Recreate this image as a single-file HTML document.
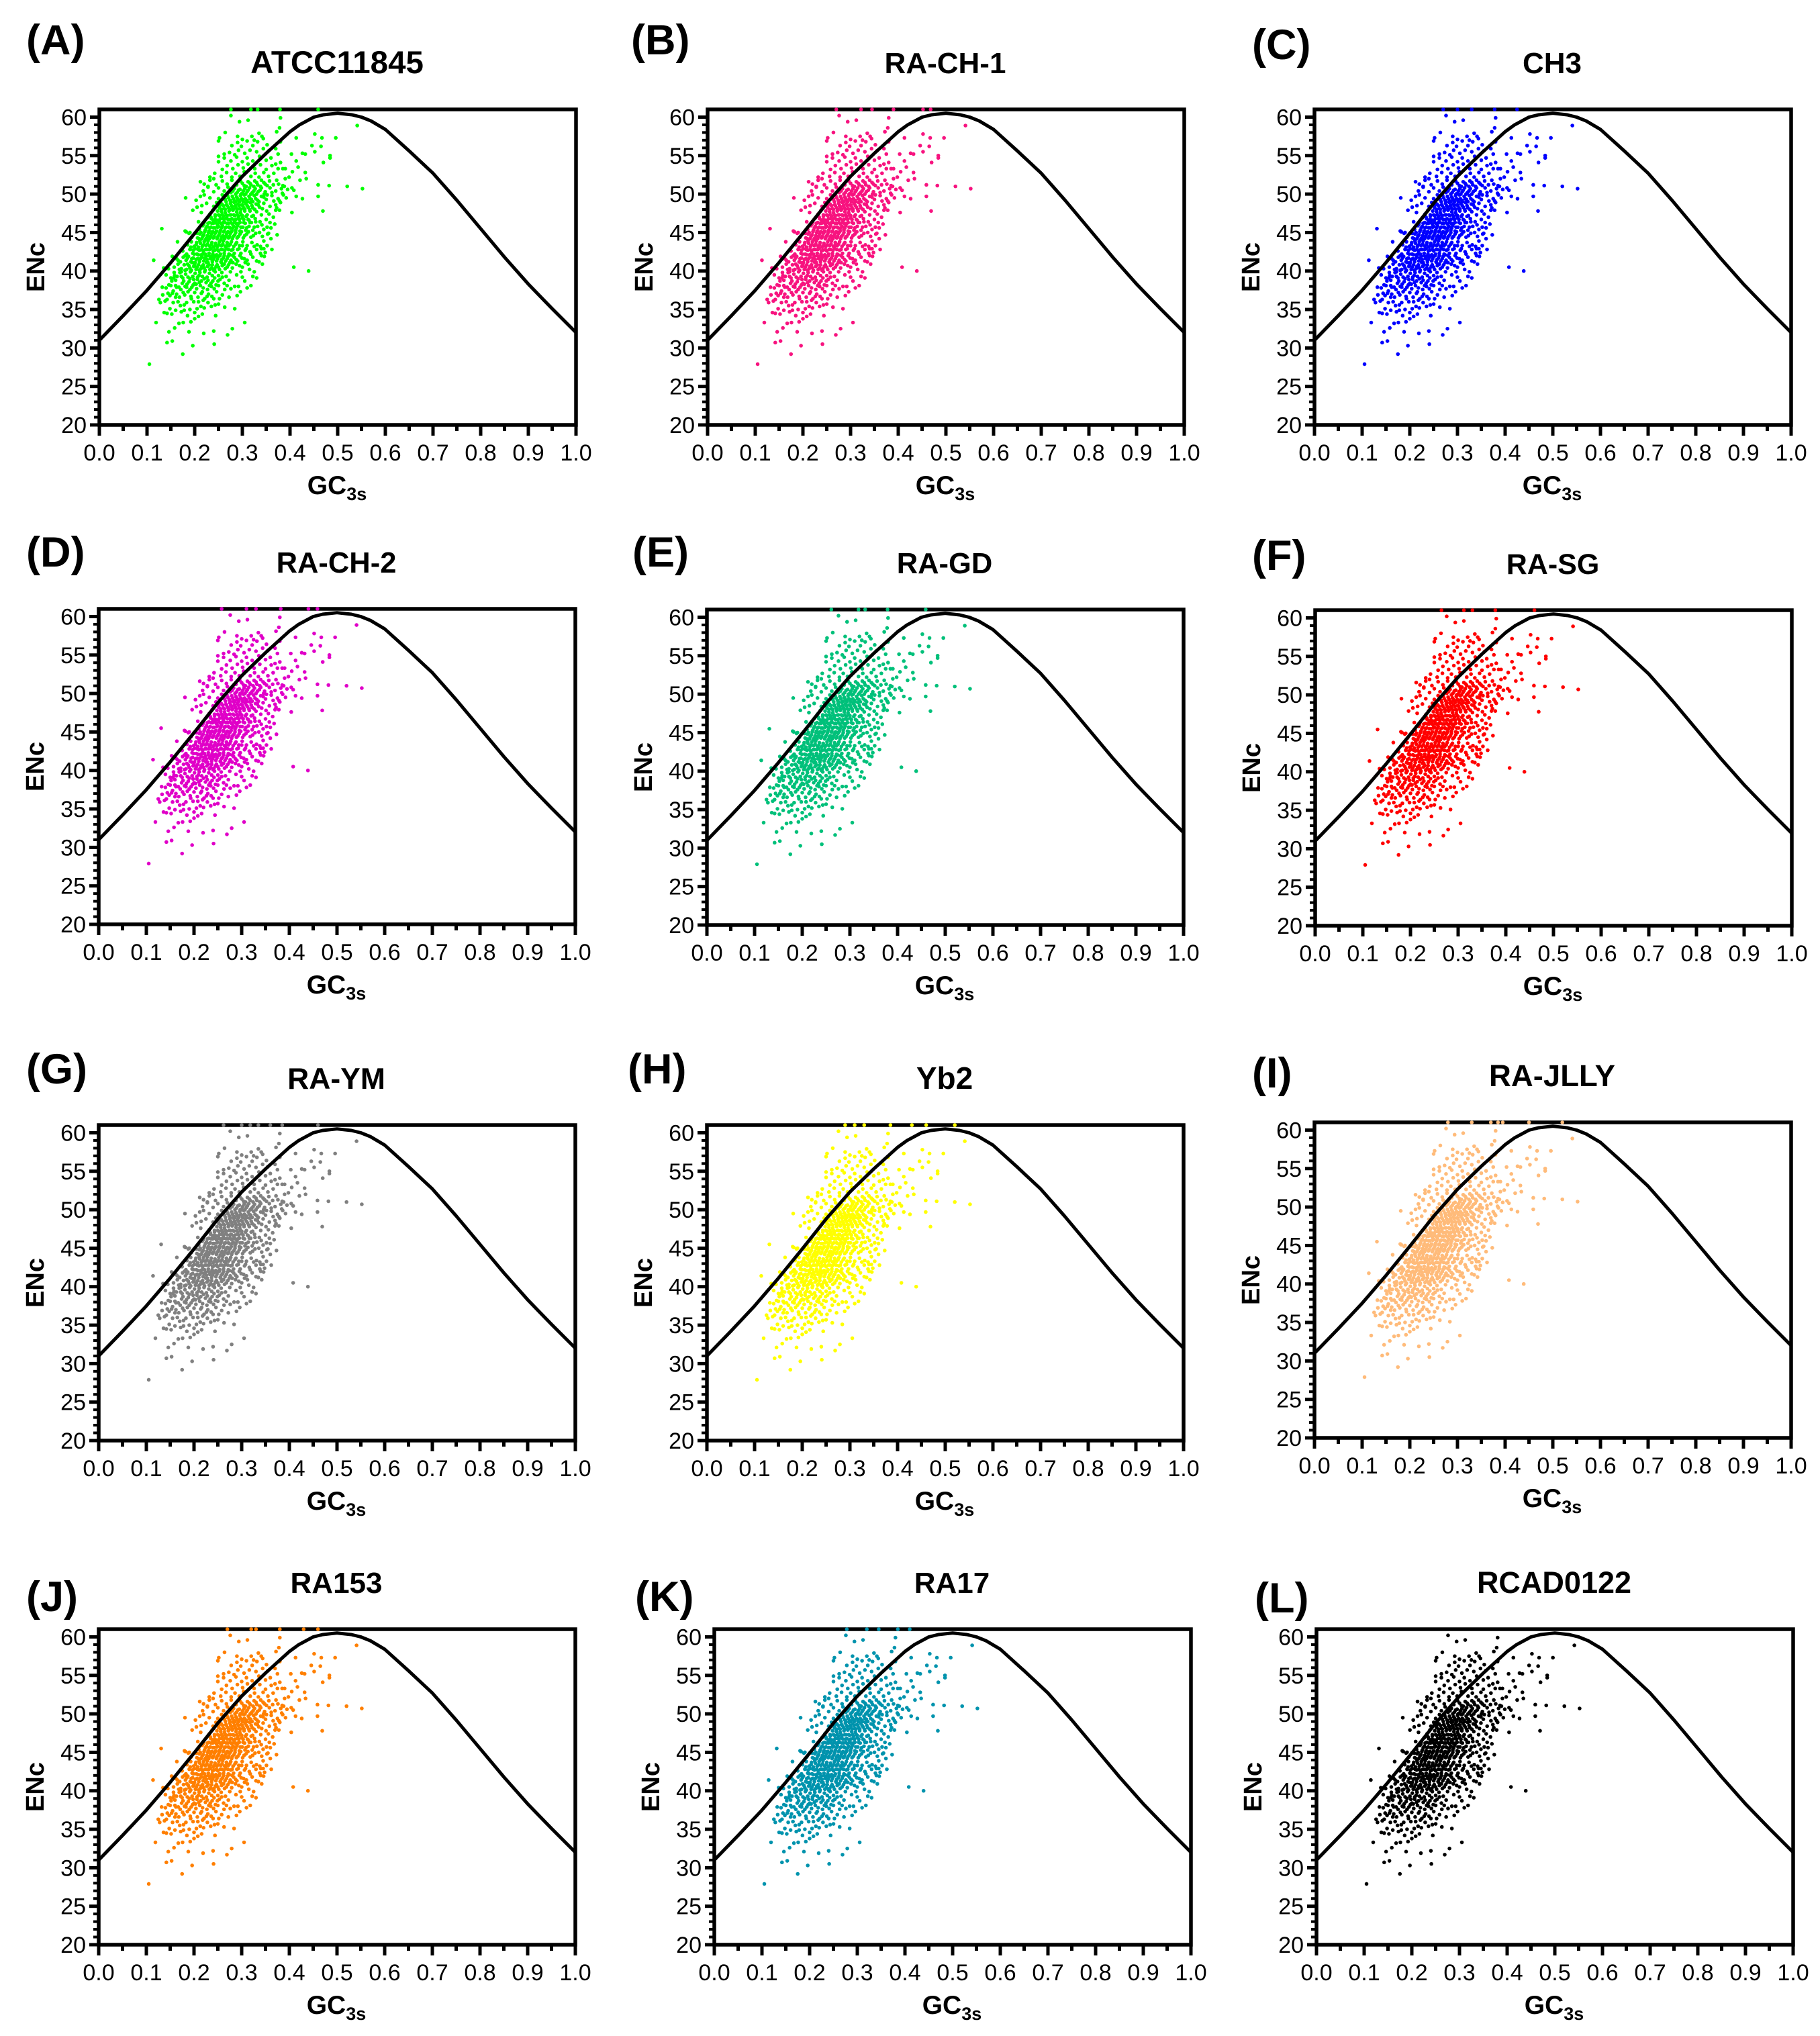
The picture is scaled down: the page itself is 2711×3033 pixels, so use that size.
<!DOCTYPE html>
<html lang="en">
<head>
<meta charset="utf-8">
<title>ENc versus GC3s plots</title>
<style>
html,body{margin:0;padding:0;background:#fff;}
svg{display:block;}
text{font-family:"Liberation Sans",Arial,sans-serif;fill:#000;}
</style>
</head>
<body>
<svg id="figure" xmlns="http://www.w3.org/2000/svg" width="2711" height="3033" viewBox="0 0 2711 3033"></svg>
<script>
// ---------- data ----------
const panelLetters = ["(A)","(B)","(C)","(D)","(E)","(F)","(G)","(H)","(I)","(J)","(K)","(L)"];
const strainNames = ["ATCC11845","RA-CH-1","CH3","RA-CH-2","RA-GD","RA-SG","RA-YM","Yb2","RA-JLLY","RA153","RA17","RCAD0122"];
const strainColors = ["#00ff00","#f7137f","#0000ff","#e000c8","#00c07a","#ff0000","#808080","#ffff00","#ffbb7a","#ff7f00","#0093ad","#000000"];
const xTickLabels = ["0.0","0.1","0.2","0.3","0.4","0.5","0.6","0.7","0.8","0.9","1.0"];
const yTickLabels = ["20","25","30","35","40","45","50","55","60"];
// Expected ENc curve, read at its vertices
const curveGc3s = [0,.05,.1,.15,.2,.25,.3,.35,.4,.42,.45,.47,.5,.53,.55,.57,.6,.65,.7,.75,.8,.85,.9,.95,1];
const curveEnc = [31,34.2,37.5,41.1,44.9,48.8,52.3,55.3,58.1,59,60,60.3,60.5,60.3,60,59.5,58.4,55.6,52.7,49.2,45.5,41.8,38.3,35.1,32];
// Genes at the clipped upper limit for each strain (ENc = 61)
const topEdgeEnc = 61;
const topEdgeGc3s = [
 [.276,.318,.332,.379,.459],
 [.27,.322,.345,.39,.452,.468],
 [.27,.3,.33,.378,.425],
 [.258,.31,.33,.382,.44,.459],
 [.261,.318,.332,.379,.459],
 [.265,.312,.33,.378,.46],
 [.262,.3,.318,.335,.36,.385,.46],
 [.29,.31,.33,.385,.43,.46,.52],
 [.28,.33,.37,.385,.395,.45,.52],
 [.27,.32,.33,.38,.43,.46],
 [.278,.32,.345,.385,.41],
 []
];
// Gene points [GC3s, ENc]
const sparseLowGenes = [[.105,27.9],[.175,29.2],[.196,30.3],[.241,30.5],[.142,30.7],[.153,30.9],[.219,31.9],[.269,31.7],[.279,32.5],[.24,32.2],[.305,33.3],[.119,33.3],[.146,32.1],[.188,32.1],[.167,33.2],[.158,32.6],[.192,33.4],[.2,33.8],[.185,34.2],[.176,33.3],[.208,34.1],[.244,34.2],[.136,34.6],[.142,34.5],[.152,34.4],[.172,34.7],[.19,35],[.205,35.1],[.22,35.2],[.235,35.4],[.25,35.7],[.263,35.3],[.284,35.1],[.128,35.9],[.142,36.3],[.155,35.9],[.165,36],[.178,35.6],[.198,36],[.213,35.4],[.228,35.9],[.243,35.6],[.272,36.6],[.125,36.3],[.133,36.9],[.148,36.8]];
const lowerBandGenes = [[.132,37.9],[.14,37.8],[.155,37.4],[.162,37],[.171,37.6],[.179,36.9],[.186,37.3],[.192,36.7],[.2,37.2],[.207,36.6],[.214,37.1],[.221,36.4],[.229,37],[.236,36.7],[.246,37.3],[.258,36.9],[.276,37.7],[.146,38.2],[.152,38.7],[.16,38.1],[.167,37.9],[.174,38.4],[.18,38],[.188,38.6],[.194,37.9],[.2,38.4],[.206,38.9],[.212,38.1],[.218,37.8],[.224,38.5],[.231,38.1],[.238,38.7],[.245,38.2],[.253,38.9],[.262,38.4],[.272,38.8],[.284,38],[.292,38],[.31,37.8],[.318,38.1],[.14,39.5],[.15,39.1],[.157,39.8],[.163,39.3],[.169,39.8],[.175,39.1],[.181,39.6],[.186,39.2],[.191,39.9],[.196,39.3],[.201,39.7],[.206,39.2],[.211,39.8],[.216,39.3],[.221,39.9],[.226,39.2],[.231,39.7],[.237,39.4],[.243,39.9],[.25,39.4],[.257,39.8],[.266,39.3],[.275,39.9],[.288,39.5],[.297,39.9],[.325,39.9],[.157,40.5],[.165,40.9],[.172,40.3],[.178,40.8],[.183,40.2],[.188,40.7],[.193,40.1],[.198,40.6],[.203,40.2],[.208,40.8],[.213,40.3],[.218,40.8],[.222,40.1],[.227,40.6],[.232,40.2],[.237,40.8],[.242,40.3],[.247,40.8],[.252,40.2],[.258,40.7],[.264,40.3],[.271,40.8],[.279,40.4],[.287,40.9],[.3,40.5],[.312,40.9],[.162,41.6],[.17,41.2],[.176,41.8],[.182,41.4],[.187,41.9],[.192,41.2],[.197,41.7],[.201,41.1],[.206,41.6],[.21,41.2],[.215,41.8],[.219,41.3],[.224,41.9],[.228,41.1],[.233,41.6],[.237,41.2],[.241,41.8],[.246,41.3],[.25,41.9],[.255,41.2],[.26,41.7],[.265,41.3],[.27,41.9],[.276,41.4],[.283,41.8],[.29,41.3],[.299,41.7],[.31,41.4],[.322,41.8]];
const denseCoreGenes = [[.175,42.6],[.183,42.2],[.19,42.8],[.196,42.3],[.201,42.9],[.205,42.2],[.21,42.7],[.214,42.1],[.218,42.6],[.222,42.2],[.226,42.8],[.23,42.3],[.234,42.9],[.238,42.2],[.242,42.7],[.246,42.1],[.25,42.6],[.254,42.2],[.258,42.8],[.262,42.3],[.267,42.9],[.272,42.2],[.277,42.7],[.283,42.3],[.29,42.8],[.297,42.3],[.306,42.7],[.318,42.2],[.33,42.8],[.34,42.9],[.185,43.4],[.193,43.8],[.199,43.2],[.204,43.7],[.208,43.1],[.212,43.6],[.216,43.2],[.22,43.8],[.224,43.3],[.228,43.9],[.232,43.2],[.236,43.7],[.24,43.1],[.244,43.6],[.248,43.2],[.252,43.8],[.256,43.3],[.26,43.9],[.264,43.2],[.268,43.7],[.272,43.3],[.277,43.8],[.282,43.2],[.288,43.7],[.294,43.3],[.301,43.8],[.31,43.3],[.32,43.7],[.331,43.4],[.345,43.9],[.194,44.4],[.2,44.9],[.206,44.3],[.211,44.8],[.215,44.2],[.219,44.7],[.223,44.1],[.227,44.6],[.231,44.2],[.235,44.8],[.239,44.3],[.243,44.9],[.247,44.2],[.251,44.7],[.255,44.1],[.259,44.6],[.263,44.2],[.267,44.8],[.271,44.3],[.275,44.9],[.279,44.2],[.284,44.7],[.289,44.3],[.295,44.8],[.302,44.3],[.309,44.8],[.318,44.4],[.328,44.9],[.342,44.5],[.373,44.7],[.182,45.1],[.188,44.9],[.21,45.4],[.217,45.9],[.222,45.3],[.226,45.8],[.23,45.2],[.234,45.7],[.238,45.1],[.242,45.6],[.246,45.2],[.25,45.8],[.254,45.3],[.258,45.9],[.262,45.2],[.266,45.7],[.27,45.1],[.274,45.6],[.278,45.2],[.282,45.8],[.286,45.3],[.29,45.9],[.295,45.2],[.301,45.7],[.307,45.3],[.314,45.8],[.322,45.3],[.332,45.8],[.345,45.4],[.352,45.7],[.22,46.4],[.226,46.9],[.231,46.3],[.235,46.8],[.239,46.2],[.243,46.7],[.247,46.1],[.251,46.6],[.255,46.2],[.259,46.8],[.263,46.3],[.267,46.9],[.271,46.2],[.275,46.7],[.279,46.1],[.283,46.6],[.287,46.2],[.291,46.8],[.295,46.3],[.3,46.9],[.306,46.2],[.312,46.7],[.319,46.3],[.327,46.8],[.337,46.4],[.35,46.7],[.232,47.4],[.238,47.9],[.243,47.3],[.248,47.8],[.252,47.2],[.256,47.7],[.26,47.1],[.264,47.6],[.268,47.2],[.272,47.8],[.276,47.3],[.28,47.9],[.284,47.2],[.288,47.7],[.292,47.1],[.296,47.6],[.3,47.2],[.305,47.8],[.31,47.3],[.316,47.8],[.323,47.2],[.33,47.7],[.34,47.3],[.351,47.8],[.37,47.9],[.378,47.9]];
const ridgeFillGenes = [[.153,37.1],[.168,36.6],[.176,37.2],[.183,37.9],[.19,37.6],[.197,38.2],[.204,37.7],[.21,38.5],[.216,37.3],[.227,37.6],[.235,38],[.241,37.7],[.25,38.1],[.16,38.8],[.172,39.3],[.177,38.7],[.184,38.3],[.19,39],[.198,38.9],[.203,38.3],[.209,39.4],[.214,38.7],[.22,39],[.228,38.8],[.234,38.4],[.242,39.1],[.249,38.7],[.258,39.2],[.268,38.1],[.18,40.1],[.185,40.9],[.19,40.4],[.195,41.1],[.2,40.8],[.205,40.5],[.21,40.1],[.215,40.6],[.22,40.4],[.225,41.1],[.23,40.8],[.235,40.4],[.24,40.1],[.245,40.6],[.25,40.5],[.256,41.1],[.262,40.9],[.268,40.5],[.274,41.1],[.28,41.1],[.294,40.7],[.306,41.1],[.18,42],[.185,41.7],[.194,41.6],[.199,42.2],[.203,41.5],[.208,42.1],[.212,41.6],[.217,42.2],[.221,41.7],[.226,41.5],[.23,42],[.235,41.9],[.239,41.5],[.244,42],[.248,41.6],[.253,42],[.257,41.5],[.262,42],[.268,41.6],[.274,42.1],[.28,42],[.287,41.5],[.295,42],[.304,41.6],[.316,42.5],[.192,43.1],[.197,42.7],[.203,43.4],[.207,42.8],[.211,43.9],[.215,42.8],[.219,43.4],[.223,42.8],[.227,43.5],[.231,42.8],[.235,43.4],[.239,42.6],[.243,43.3],[.247,42.8],[.251,43.4],[.255,42.8],[.259,43.5],[.263,42.7],[.267,43.3],[.271,42.8],[.275,43.5],[.28,42.8],[.286,43.5],[.293,42.9],[.3,43.3],[.308,42.9],[.325,43.2],[.338,43.2],[.205,44.9],[.209,44.2],[.213,45],[.217,44.5],[.221,45.1],[.225,44.3],[.229,45],[.233,44.5],[.237,45.1],[.241,44.5],[.245,45.1],[.249,44.5],[.253,45],[.257,44.4],[.261,45.1],[.265,44.5],[.269,45],[.273,44.5],[.277,45.1],[.281,44.5],[.286,45],[.292,44.5],[.298,45.1],[.305,44.6],[.313,45.1],[.323,44.6],[.336,45],[.219,46.1],[.224,45.6],[.228,46.2],[.232,45.6],[.236,46.2],[.24,45.6],[.244,46.3],[.248,45.7],[.252,46.3],[.256,45.6],[.26,46.3],[.264,45.6],[.268,46.2],[.272,45.7],[.276,46.3],[.28,45.6],[.284,46.3],[.288,45.6],[.292,46.2],[.297,45.7],[.303,46.3],[.309,45.6],[.316,46.3],[.325,45.7],[.341,46],[.234,47],[.239,46.6],[.243,47.1],[.247,46.6],[.25,47.3],[.254,46.8],[.258,47.3],[.262,46.7],[.266,47.3],[.27,46.7],[.274,47.3],[.278,46.8],[.282,47.3],[.286,46.7],[.29,47.3],[.294,46.7],[.298,47.3],[.303,46.7],[.308,47.1],[.314,46.6],[.32,47.1],[.328,46.4],[.252,48.5],[.256,48],[.26,48.5],[.264,48],[.268,48.5],[.273,48],[.277,48.5],[.281,48],[.285,48.5],[.289,48],[.293,48.5],[.297,48],[.301,48.5],[.305,48],[.31,48.5],[.315,48],[.32,48.5],[.326,48],[.333,48.6],[.342,48.1],[.262,49.4],[.266,49],[.271,49.5],[.276,49],[.281,49.4],[.286,49],[.29,49.4],[.294,49],[.298,49.4],[.302,49],[.306,49.4],[.311,49],[.316,49.4],[.322,49],[.328,49.4],[.335,49],[.345,49.6],[.28,50.4],[.286,50],[.292,50.5],[.297,50],[.302,50.4],[.307,50],[.312,50.5],[.318,50],[.324,50.4],[.33,50],[.337,50.5],[.346,50],[.3,51.4],[.308,51],[.316,51.4],[.324,51],[.33,51.5],[.338,51],[.345,51.5],[.352,51.1],[.15,38.1],[.144,37.1],[.138,36.1],[.16,36.6],[.17,35.5],[.183,35.9],[.193,36.4],[.208,36],[.218,36.2],[.226,36.7],[.24,36.4],[.252,36.4],[.263,37.6],[.148,35.1],[.16,34.9],[.178,34.9],[.2,34.6],[.216,34.4],[.165,41.4],[.168,40.2],[.172,39.9],[.156,39.1],[.162,37.9]];
const rightFlankGenes = [[.335,41.2],[.348,42.4],[.352,43.3],[.36,44.2],[.353,44.8],[.346,41.9],[.358,46.3],[.365,47],[.36,45.6],[.368,46.1],[.372,48.2],[.378,49.1],[.366,49.1],[.384,50.1],[.392,49.5],[.376,51.3],[.39,52],[.362,50.2],[.352,49.9],[.338,42.3],[.356,47.4],[.342,40.9],[.322,39.3],[.33,39.1],[.315,40.2],[.305,38.7],[.296,37.3],[.289,36.8],[.3,39.2]];
const upperBandGenes = [[.205,48.3],[.215,48.5],[.225,48.8],[.24,48.4],[.246,48.9],[.252,48.2],[.257,48.7],[.262,48.1],[.267,48.6],[.271,48.2],[.275,48.8],[.279,48.3],[.283,48.9],[.287,48.2],[.291,48.7],[.295,48.1],[.299,48.6],[.303,48.2],[.307,48.8],[.312,48.3],[.317,48.9],[.322,48.2],[.329,48.7],[.336,48.3],[.345,48.8],[.358,48.4],[.37,48.6],[.38,48.9],[.203,49.2],[.212,49.7],[.22,49.9],[.232,49.5],[.25,49.4],[.258,49.9],[.264,49.3],[.269,49.8],[.274,49.2],[.279,49.7],[.284,49.1],[.288,49.6],[.292,49.2],[.296,49.8],[.3,49.3],[.304,49.9],[.309,49.2],[.314,49.7],[.319,49.3],[.325,49.8],[.332,49.2],[.34,49.7],[.35,49.3],[.362,49.8],[.375,49.4],[.386,49.9],[.218,50.4],[.228,50.9],[.24,50.3],[.25,50.8],[.262,50.4],[.27,50.9],[.276,50.2],[.283,50.7],[.289,50.2],[.295,50.6],[.3,50.1],[.305,50.7],[.31,50.3],[.315,50.8],[.321,50.2],[.327,50.7],[.333,50.3],[.34,50.8],[.348,50.3],[.358,50.8],[.37,50.4],[.382,50.7],[.395,50.6],[.22,51.3],[.232,51.8],[.245,51.2],[.258,51.7],[.268,51.3],[.278,51.8],[.288,51.2],[.296,51.7],[.304,51.1],[.312,51.6],[.318,51.2],[.326,51.7],[.332,51.2],[.34,51.8],[.348,51.3],[.357,51.7],[.365,51.2],[.372,51.8],[.385,51.1],[.232,52.2],[.242,52.7],[.256,52.3],[.267,52.8],[.278,52.2],[.286,52.7],[.295,52.3],[.304,52.9],[.318,52.3],[.327,52.7],[.335,52.2],[.345,52.8],[.355,52.3],[.366,52.7],[.375,53.3],[.385,53.3],[.258,53.2],[.268,53.7],[.28,53.3],[.291,53.8],[.302,53.4],[.312,53.9],[.326,53.3],[.338,53.8],[.35,53.2],[.362,53.7],[.37,53.9],[.38,54.1],[.25,54.2],[.262,54.7],[.25,54.9],[.276,54.3],[.288,54.8],[.3,54.2],[.31,54.7],[.322,54.3],[.336,54.9],[.35,54.4],[.36,54.7],[.375,55.2],[.262,55.2],[.273,55.4],[.284,55.1],[.292,55.7],[.305,55.3],[.316,55.7],[.33,55.5],[.344,55.9],[.355,55.6],[.37,55.9],[.278,56.3],[.29,56.7],[.298,56.2],[.31,56.9],[.322,56.3],[.332,56.8],[.352,56.4],[.38,56.8],[.264,58],[.252,57.3],[.29,57.5],[.32,57.5],[.335,57.9],[.341,57.5],[.3,57.1],[.325,57],[.344,57.2]];
const sparseHighGenes = [[.114,41.4],[.131,45.5],[.181,49.5],[.408,40.5],[.439,40],[.552,50.7],[.52,51],[.482,51.1],[.459,51.2],[.459,49.7],[.469,47.8],[.404,47.6],[.426,49.4],[.413,49.7],[.541,58.9],[.496,57.3],[.452,57.8],[.467,57.3],[.446,56.3],[.465,56.2],[.452,55.5],[.484,55],[.484,54.7],[.47,54.1],[.413,57.3],[.403,55.2],[.426,55.3],[.432,55.2],[.413,54.3],[.417,53.5],[.432,52.8],[.421,51.8],[.434,52],[.404,50.8],[.408,50.5],[.388,51],[.276,60.2],[.294,59.4],[.312,59.6],[.38,59.9],[.378,58.6],[.372,58.1],[.398,52.2],[.39,53.3],[.405,52.9],[.355,44.9],[.362,42.8],[.345,42.9],[.34,42],[.33,41.3],[.145,40.3],[.153,41.9],[.164,43.8],[.18,45.2],[.135,40.4],[.158,39.4],[.19,45],[.196,47.9],[.208,46.4],[.214,47.6],[.212,51.6],[.228,51],[.24,52],[.25,56.9]];
// Plot frames and type sizes in pixels (layout only, not data)
const frameLeft = [148,1054,1958,147,1053,1959,147,1053,1958,147,1064,1961];
const frameTop = [163,163,163,907,908,909,1676,1676,1672,2427,2427,2427];
const letterLeft = [39,940,1865,39,942,1865,39,935,1865,39,946,1869];
const letterBase = [81,81,88,844,844,849,1614,1614,1620,2400,2400,2402];
const titleSize = [47.5,44,44,43.5,43.5,43,44.5,46,45.5,44,44,45];

// ---------- scales ----------
const plotW = 710;
const plotH = 470;
const xMin = 0, xMax = 1, yMin = 20, yMax = 61;
function xScale(v, left){ return left + (v - xMin) / (xMax - xMin) * plotW; }
function yScale(v, top){ return top + (yMax - v) / (yMax - yMin) * plotH; }

const NS = "http://www.w3.org/2000/svg";
const svg = document.getElementById("figure");
function make(tag, parent, attrs){
  const el = document.createElementNS(NS, tag);
  for (const k in attrs) el.setAttribute(k, attrs[k]);
  parent.appendChild(el);
  return el;
}

const allGenes = [].concat(sparseLowGenes, lowerBandGenes, denseCoreGenes, ridgeFillGenes, rightFlankGenes, upperBandGenes, sparseHighGenes);

strainNames.forEach(function(name, i){
  const left = frameLeft[i], top = frameTop[i], color = strainColors[i];
  const bottom = yScale(yMin, top);

  const g = make("g", svg, {});
  
  

  const letter = make("text", g, {x:letterLeft[i], y:letterBase[i], "font-size":63, "font-weight":"bold"});
  
  
  letter.textContent = panelLetters[i];

  const title = make("text", g, {x:left + 354, y:top - 54, "font-size":titleSize[i], "font-weight":"bold", "text-anchor":"middle"});
  
  
  title.textContent = name;

  // frame
  const frame = make("rect", g, {x:left, y:top, width:plotW, height:plotH, fill:"none", stroke:"#000", "stroke-width":5.5});
  
  

  // y ticks: minor every 1, major every 5
  for (let v = yMin; v <= 60; v++) {
    const major = v % 5 === 0;
    const y = yScale(v, top);
    const t = make("line", g, {x1:left - (major ? 14 : 8), x2:left, y1:y, y2:y, stroke:"#000", "stroke-width":major ? 5 : 4});
    
    
  }
  yTickLabels.forEach(function(lab){
    const lbl = make("text", g, {x:left - 19, y:yScale(+lab, top) + 12, "font-size":34, "text-anchor":"end"});
    
    
    lbl.textContent = lab;
  });

  // x ticks: minor every 0.05, major every 0.1
  for (let k = 0; k <= 20; k++) {
    const major = k % 2 === 0;
    const x = xScale(k / 20, left);
    const t = make("line", g, {x1:x, x2:x, y1:bottom, y2:bottom + (major ? 16 : 9), stroke:"#000", "stroke-width":5});
    
    
  }
  xTickLabels.forEach(function(lab){
    const lbl = make("text", g, {x:xScale(+lab, left), y:bottom + 53, "font-size":34, "text-anchor":"middle"});
    
    
    lbl.textContent = lab;
  });

  // axis titles
  const yt = make("text", g, {transform:"translate(" + (left - 82) + "," + (top + 235) + ") rotate(-90)", "font-size":38, "font-weight":"bold", "text-anchor":"middle"});
  
  
  yt.textContent = "ENc";

  const xt = make("text", g, {x:left + 354, y:bottom + 103, "font-size":39, "font-weight":"bold", "text-anchor":"middle"});
  
  
  const base = make("tspan", xt, {});
  base.textContent = "GC";
  const sub = make("tspan", xt, {dy:9, "font-size":27});
  sub.textContent = "3s";

  // points
  const dots = make("g", g, {fill:color});
  
  
  allGenes.forEach(function(p){
    const c = make("circle", dots, {cx:xScale(p[0], left), cy:yScale(p[1], top), r:2.8});
    
    
  });
  topEdgeGc3s[i].forEach(function(v){
    const c = make("circle", dots, {cx:xScale(v, left), cy:yScale(topEdgeEnc, top), r:2.8});
    
    
  });

  // expected curve
  const pts = curveGc3s.map(function(v, k){ return xScale(v, left).toFixed(1) + "," + yScale(curveEnc[k], top).toFixed(1); }).join(" ");
  const line = make("polyline", g, {points:pts, fill:"none", stroke:"#000", "stroke-width":5, "stroke-linejoin":"round"});
  
  
});
</script>
</body>
</html>
